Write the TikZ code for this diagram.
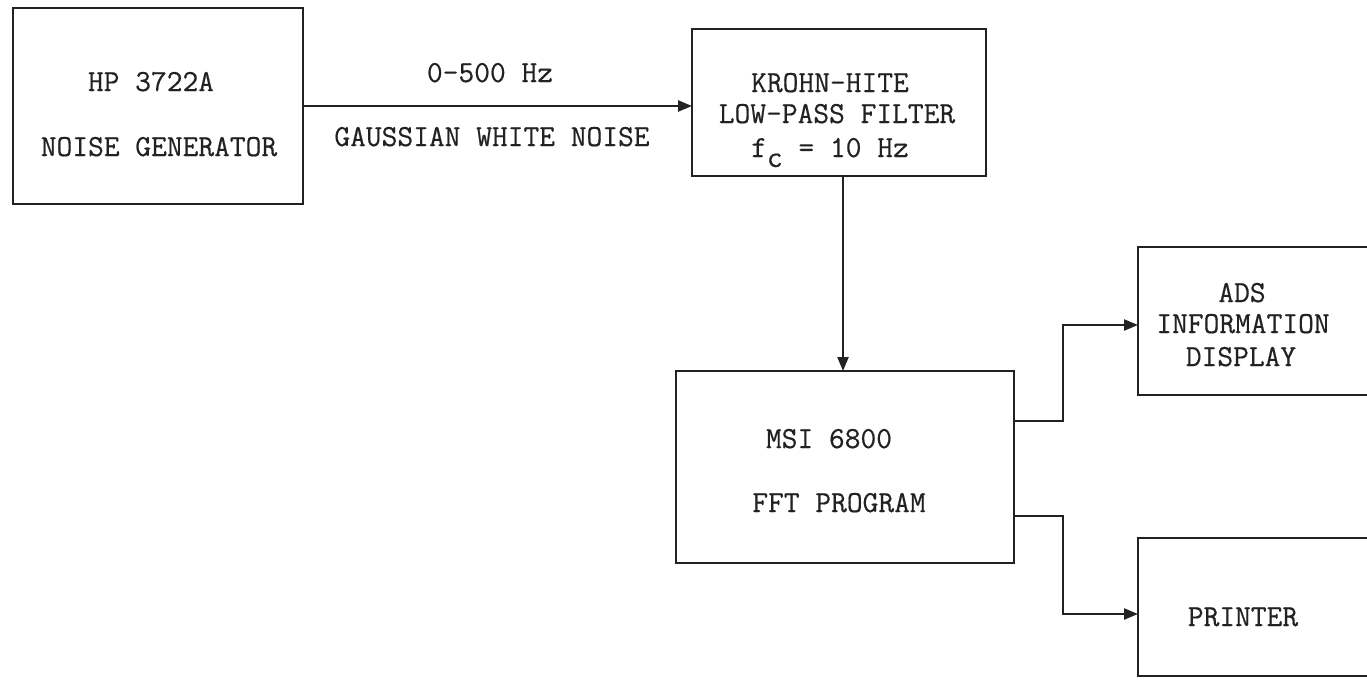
\documentclass[tikz,border=0pt]{standalone}
\usepackage{fontspec}
\setmonofont{Latin Modern Mono}[FakeBold=0.5]
\usetikzlibrary{arrows.meta}
\definecolor{ink}{HTML}{222222}
\tikzset{
  box/.style={draw=ink, line width=1.2pt, inner sep=0pt, outer sep=0pt, rectangle},
  lbl/.style={anchor=base, inner sep=0pt, text=ink, font=\ttfamily\fontsize{15.3}{16}\selectfont},
  arr/.style={draw=ink, line width=1.2pt, -{Triangle[length=7pt,width=5.5pt]}},
}
\begin{document}
\begin{tikzpicture}[x=0.5pt,y=-0.5pt]
\useasboundingbox (0,0) rectangle (1367,681);
\clip (0,0) rectangle (1367,681);
% boxes
\node[box, minimum width=145pt, minimum height=98pt] (gen) at (158,106) {};
\node[box, minimum width=147pt, minimum height=73.5pt] (filt) at (839,102.5) {};
\node[box, minimum width=169pt, minimum height=96pt] (msi) at (845,467) {};
\node[box, minimum width=131pt, minimum height=74pt] (ads) at (1269,321) {};
\node[box, minimum width=131pt, minimum height=69pt] (prn) at (1269,607) {};
% texts
\node[lbl] (g1) at (151,91) {HP 3722A};
\node[lbl] (g2) at (159,156) {NOISE GENERATOR};
\node[lbl] (w1) at (490,82) {0-500 Hz};
\node[lbl] (w2) at (492,146) {GAUSSIAN WHITE NOISE};
\node[lbl] (f1) at (830,92) {KROHN-HITE};
\node[lbl] (f2) at (837,123) {LOW-PASS FILTER};
\node[lbl] (f3) at (830,157) {f\raisebox{-5pt}{c} = 10 Hz};
\node[lbl] (m1) at (829,448) {MSI 6800};
\node[lbl] (m2) at (839,512) {FFT PROGRAM};
\node[lbl] (a1) at (1242,302) {ADS};
\node[lbl] (a2) at (1243,333) {INFORMATION};
\node[lbl] (a3) at (1241,366) {DISPLAY};
\node[lbl] (p1) at (1243,626) {PRINTER};
% connectors
\draw[arr] (gen.east) -- (gen.east -| filt.west);
\draw[arr] ([xshift=2pt]filt.south) -- ([xshift=2pt]filt.south |- msi.north);
\draw[arr] ([yshift=23pt]msi.east) -- ++(24.5pt,0) |- ([yshift=-2pt]ads.west);
\draw[arr] ([yshift=-24.5pt]msi.east) -- ++(24.5pt,0) |- ([yshift=-3.5pt]prn.west);
\end{tikzpicture}
\end{document}
